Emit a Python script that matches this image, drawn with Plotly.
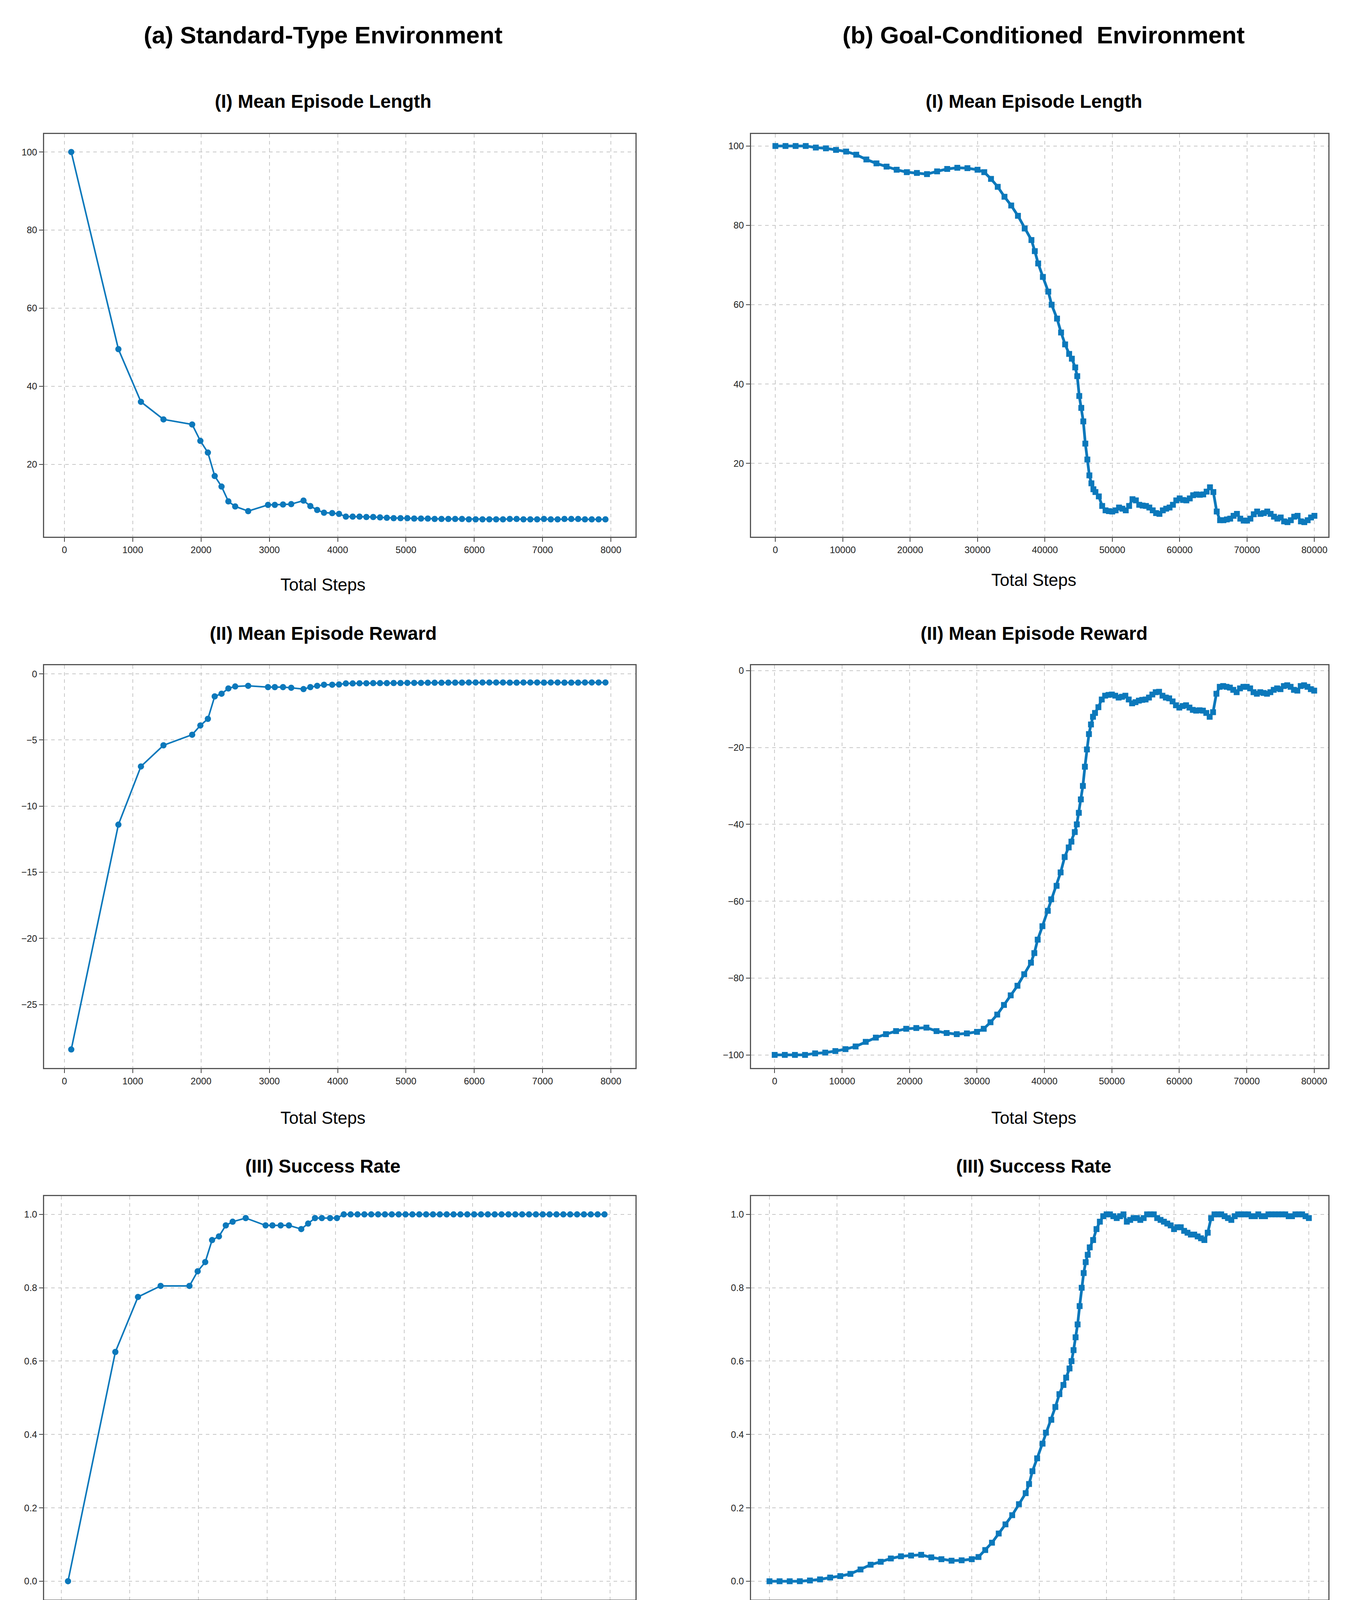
import plotly.graph_objects as go

BLUE = "#0b78bb"

# (a) standard-type environment
left_steps_head = [100, 790, 1120, 1450, 1870, 1990, 2100, 2200, 2300, 2400, 2500, 2690,
                   2980, 3080, 3200, 3320, 3500, 3600, 3700, 3800, 3920, 4020]
left_len_head = [100, 49.5, 36, 31.5, 30.2, 26, 23, 17, 14.3, 10.5, 9.2, 8, 9.6, 9.6, 9.7,
                 9.8, 10.7, 9.3, 8.3, 7.6, 7.5, 7.3]
left_rew_head = [-28.4, -11.4, -7.0, -5.4, -4.6, -3.9, -3.4, -1.7, -1.5, -1.1, -0.95, -0.9,
                 -1.0, -1.0, -1.0, -1.05, -1.15, -1.0, -0.9, -0.82, -0.82, -0.8]
left_suc_head = [0, 0.625, 0.775, 0.805, 0.805, 0.845, 0.87, 0.93, 0.94, 0.97, 0.98, 0.99,
                 0.97, 0.97, 0.97, 0.97, 0.96, 0.975, 0.99, 0.99, 0.99, 0.99]
left_len_tail = [6.6, 6.6, 6.6, 6.5, 6.5, 6.4, 6.3, 6.2, 6.2, 6.2, 6.1, 6.1, 6.1, 6.0, 6.0,
                 6.0, 6.0, 6.0, 5.9, 5.9, 5.9, 5.9, 5.9, 5.9, 6.0, 6.0, 5.9, 5.9, 5.9, 6.0,
                 5.9, 5.9, 6.0, 6.0, 6.0, 5.9, 5.9, 5.9, 5.9]
left_rew_tail = [-0.72, -0.72, -0.71, -0.71, -0.7, -0.7, -0.7, -0.69, -0.69, -0.68, -0.68,
                 -0.68, -0.67, -0.67, -0.67, -0.66, -0.66, -0.66, -0.65, -0.65, -0.65, -0.65,
                 -0.65, -0.65, -0.66, -0.66, -0.65, -0.65, -0.65, -0.66, -0.65, -0.65, -0.66,
                 -0.66, -0.66, -0.65, -0.65, -0.65, -0.65]
left_suc_tail = [1.0] * len(left_len_tail)
left_steps_tail = list(range(4120, 4120 + 100 * len(left_len_tail), 100))

left_steps = left_steps_head + left_steps_tail
left_len = left_len_head + left_len_tail
left_rew = left_rew_head + left_rew_tail
left_suc = left_suc_head + left_suc_tail

# (b) goal-conditioned environment
right_steps_head = [0, 1500, 3000, 4500, 6000, 7500, 9000, 10500, 12000, 13500, 15000, 16500,
                    18000, 19500, 21000, 22500, 24000, 25500, 27000, 28500, 30000, 31000,
                    32000, 33000, 34000, 35000, 36000, 37000, 38000, 38500, 39000, 39700,
                    40500, 41000, 41800, 42400, 43000, 43600, 44000, 44500, 44800, 45100,
                    45400, 45700, 46000, 46300, 46600, 46900, 47200, 47500]
right_len_head = [100, 100, 100, 100, 99.6, 99.4, 99, 98.6, 97.8, 96.6, 95.6, 94.8, 94, 93.4,
                  93.2, 92.9, 93.6, 94.2, 94.5, 94.4, 94, 93.4, 91.7, 89.7, 87.2, 85, 82.4,
                  79.2, 76.3, 73.5, 70.4, 67, 63.3, 60, 56.5, 53, 50, 47.6, 46.4, 44.2, 42,
                  37, 34, 30.6, 25, 21, 17, 15, 13.5, 12.8]
right_rew_head = [-100, -100, -100, -100, -99.6, -99.4, -99, -98.5, -97.8, -96.6, -95.5,
                  -94.6, -93.8, -93.2, -93, -92.9, -93.8, -94.3, -94.6, -94.4, -94, -93.2,
                  -91.5, -89.5, -87, -84.5, -82, -79, -76, -73.5, -70, -66.5, -62.5, -59.5,
                  -56, -52.5, -48.5, -46, -44.5, -42, -40, -37, -33.5, -30, -25, -20.5,
                  -16.5, -14, -12, -11]
right_suc_head = [0, 0, 0, 0, 0.002, 0.005, 0.01, 0.014, 0.02, 0.032, 0.045, 0.053, 0.062,
                  0.068, 0.07, 0.072, 0.065, 0.06, 0.056, 0.057, 0.06, 0.066, 0.085, 0.105,
                  0.13, 0.155, 0.18, 0.21, 0.24, 0.265, 0.3, 0.335, 0.375, 0.405, 0.44,
                  0.475, 0.51, 0.535, 0.555, 0.58, 0.6, 0.63, 0.665, 0.7, 0.75, 0.8, 0.84,
                  0.87, 0.89, 0.91]
right_len_tail = [11.7, 9.3, 8.2, 8.0, 7.9, 8.2, 8.9, 8.6, 8.2, 9.3,
                  11, 10.7, 9.6, 9.4, 9.3, 8.9, 8.2, 7.5, 7.3, 8.2,
                  8.6, 8.9, 9.6, 10.7, 11.2, 10.8, 10.7, 11.2, 12, 12.2,
                  12.1, 12.2, 12.9, 14, 12.8, 7.9, 5.7, 5.7, 5.9, 6.1,
                  6.8, 7.3, 6.1, 5.6, 5.6, 6.1, 7.2, 7.9, 7.3, 7.5,
                  7.9, 7.3, 6.6, 6.1, 6.4, 5.4, 5.2, 5.7, 6.6, 6.8,
                  5.4, 5.2, 5.7, 6.4, 6.8]
right_rew_tail = [-9.5, -7.5, -6.5, -6.3, -6.2, -6.5, -7, -6.8, -6.5, -7.5,
                  -8.5, -8.2, -7.8, -7.6, -7.5, -7, -6.2, -5.6, -5.5, -6.5,
                  -7, -7.2, -8, -9, -9.6, -9.2, -9, -9.6, -10.2, -10.4,
                  -10.3, -10.4, -11, -12, -10.8, -6, -4.2, -4, -4.2, -4.4,
                  -5, -5.6, -4.6, -4.2, -4.2, -4.6, -5.6, -6, -5.6, -5.8,
                  -6, -5.6, -5, -4.6, -4.8, -4, -3.8, -4.2, -5, -5.2,
                  -4, -3.8, -4.2, -4.8, -5.2]
right_suc_tail = [0.93, 0.96, 0.98, 0.995, 1, 1, 0.995, 0.99, 0.995, 1,
                  0.98, 0.985, 0.99, 0.99, 0.985, 0.99, 1, 1, 1, 0.99,
                  0.985, 0.98, 0.975, 0.97, 0.96, 0.965, 0.965, 0.955, 0.95, 0.945,
                  0.945, 0.94, 0.935, 0.93, 0.95, 0.99, 1, 1, 1, 0.995,
                  0.99, 0.985, 0.995, 1, 1, 1, 1, 0.995, 0.995, 1,
                  0.995, 0.995, 1, 1, 1, 1, 1, 1, 0.995, 0.995,
                  1, 1, 1, 0.995, 0.99]
right_steps_tail = list(range(48000, 48000 + 500 * len(right_len_tail), 500))

right_steps = right_steps_head + right_steps_tail
right_len = right_len_head + right_len_tail
right_rew = right_rew_head + right_rew_tail
right_suc = right_suc_head + right_suc_tail

W, H = 3500, 4297
FONT = "Liberation Sans, Arial, sans-serif"

fig = go.Figure()

# panel domains (paper fractions)
xdom = {"L": [0.030, 0.4626], "R": [0.547, 0.9694]}
ydom = [[0.682, 0.922], [0.3656, 0.6055], [0.0489, 0.2893]]

panels = [
    ("L", 0, left_steps, left_len, [-297, 8360], [1.4, 104.6], [20, 40, 60, 80, 100], None),
    ("R", 0, right_steps, right_len, [-3640, 82060], [1.5, 103], [20, 40, 60, 80, 100], None),
    ("L", 1, left_steps, left_rew, [-297, 8360], [-29.8, 0.65], [-25, -20, -15, -10, -5, 0], None),
    ("R", 1, right_steps, right_rew, [-3530, 82090], [-103.4, 1.4], [-100, -80, -60, -40, -20, 0], None),
    ("L", 2, left_steps, left_suc, [-248, 8372], [-0.05, 1.05], [0, 0.2, 0.4, 0.6, 0.8, 1.0], ".1f"),
    ("R", 2, right_steps, right_suc, [-2760, 82880], [-0.05, 1.05], [0, 0.2, 0.4, 0.6, 0.8, 1.0], ".1f"),
]

layout_axes = {}
for i, (side, row, xs, ys, xr, yr, yt, yfmt) in enumerate(panels, start=1):
    suffix = "" if i == 1 else str(i)
    if side == "L":
        fig.add_trace(go.Scatter(
            x=xs, y=ys, mode="lines+markers", xaxis="x" + suffix, yaxis="y" + suffix,
            line=dict(color=BLUE, width=4),
            marker=dict(symbol="circle", size=16, color=BLUE),
            showlegend=False))
        xt = list(range(0, 8001, 1000))
    else:
        fig.add_trace(go.Scatter(
            x=xs, y=ys, mode="lines+markers", xaxis="x" + suffix, yaxis="y" + suffix,
            line=dict(color=BLUE, width=7),
            marker=dict(symbol="square", size=15, color=BLUE),
            showlegend=False))
        xt = list(range(0, 80001, 10000))
    common = dict(showline=True, linecolor="#555555", linewidth=3, mirror=True,
                  showgrid=True, gridcolor="#c8c8c8", griddash="dash", gridwidth=2,
                  ticks="outside", ticklen=10, tickwidth=2, tickcolor="#444444",
                  tickfont=dict(family=FONT, size=24, color="#222222"), zeroline=False)
    layout_axes["xaxis" + suffix] = dict(common, domain=xdom[side], range=xr, tickvals=xt,
                                         tickformat="d", anchor="y" + suffix)
    layout_axes["yaxis" + suffix] = dict(common, domain=ydom[row], range=yr, tickvals=yt,
                                         tickformat=yfmt, anchor="x" + suffix)

fig.update_layout(**layout_axes)

ann = []
def txt(x, y, s, size, bold=True):
    ann.append(dict(x=x, y=y, xref="paper", yref="paper", text=("<b>%s</b>" % s) if bold else s,
                    showarrow=False, xanchor="center", yanchor="middle",
                    font=dict(family=FONT, size=size, color="black")))

txt(0.234, 0.981, "(a) Standard-Type Environment", 62)
txt(0.761, 0.981, "(b) Goal-Conditioned  Environment", 62)
sub = ["(I) Mean Episode Length", "(II) Mean Episode Reward", "(III) Success Rate"]
sub_y = [0.9415, 0.6245, 0.307]
xlab_y = [[0.6535, 0.6565], [0.336, 0.336], [0.0165, 0.0165]]
for r in range(3):
    txt(0.234, sub_y[r], sub[r], 48)
    txt(0.754, sub_y[r], sub[r], 48)
    txt(0.234, xlab_y[r][0], "Total Steps", 44, bold=False)
    txt(0.754, xlab_y[r][1], "Total Steps", 44, bold=False)

fig.update_layout(width=W, height=H, margin=dict(l=0, r=0, t=0, b=0),
                  paper_bgcolor="white", plot_bgcolor="white", annotations=ann)

fig.write_html("out.html")
